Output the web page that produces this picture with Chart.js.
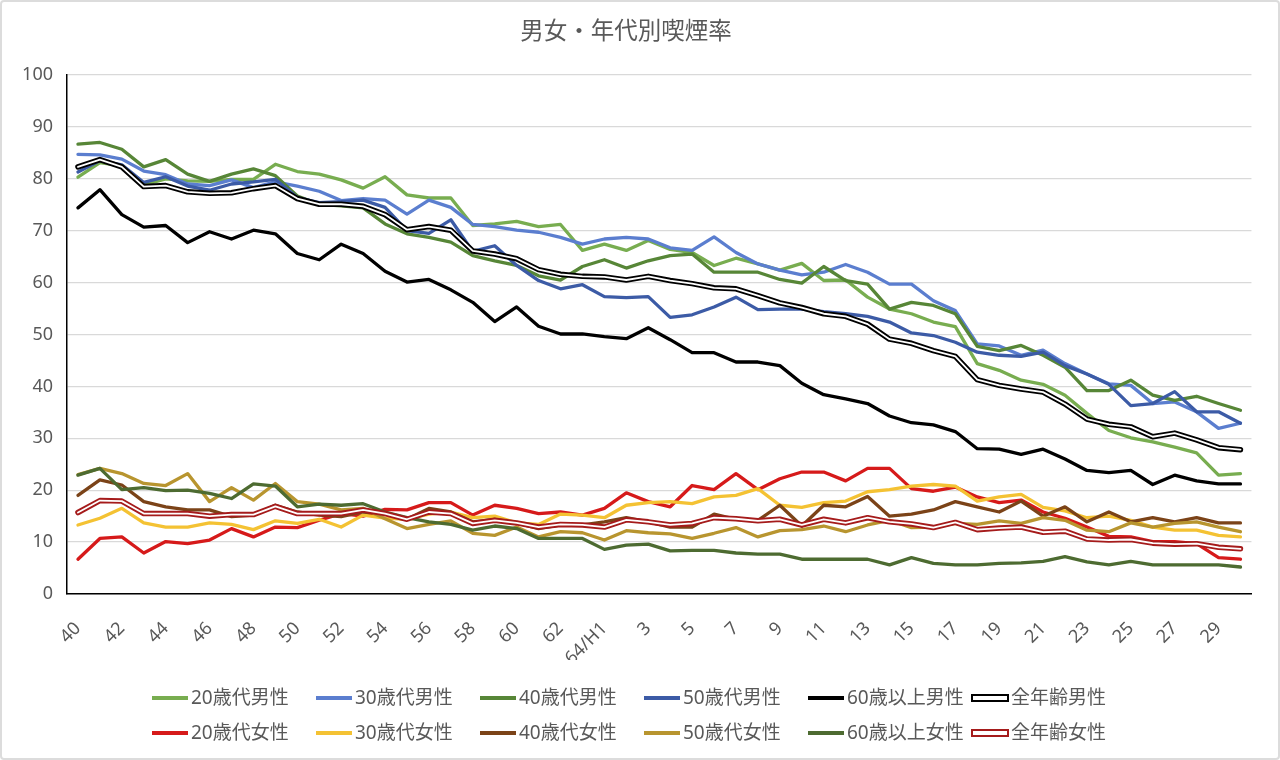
<!DOCTYPE html>
<html lang="ja">
<head>
  <meta charset="UTF-8">
  <title>男女・年代別喫煙率</title>
  <script src="https://cdn.jsdelivr.net/npm/chart.js"></script>
  <style>
    body { margin: 0; background: #fff; overflow: hidden; }
    #wrap { width: 1280px; height: 760px; position: relative; }
    #wrap::after {
      content: ''; position: absolute; inset: 0;
      border: 2px solid #dcdcdc; border-radius: 4px; pointer-events: none;
    }
  </style>
</head>
<body>
  <div id="wrap"><canvas id="chart" width="1280" height="760"></canvas></div>

  <script>
    // 昭和40年〜平成30年
    const yearLabels = ['40','41','42','43','44','45','46','47','48','49','50','51','52','53','54','55','56','57','58','59','60','61','62','63','64/H1',
      '2','3','4','5','6','7','8','9','10','11','12','13','14','15','16','17','18','19','20','21','22','23','24','25','26','27','28','29','30'];

    const male20 = [80.3, 83.1, 82.5, 78.8, 80.0, 79.6, 79.5, 79.9, 79.9, 82.8, 81.4, 80.9, 79.8, 78.2, 80.4, 76.9, 76.3, 76.3, 71.0, 71.3,
      71.8, 70.8, 71.2, 66.2, 67.4, 66.2, 68.1, 66.4, 65.8, 63.3, 64.7, 63.6, 62.4, 63.7, 60.4, 60.5, 57.2, 54.9, 54.0, 52.4,
      51.5, 44.4, 43.1, 41.2, 40.4, 38.3, 34.8, 31.5, 30.1, 29.3, 28.3, 27.2, 22.9, 23.2];
    const male30 = [84.7, 84.6, 83.8, 81.5, 80.8, 79.0, 78.7, 79.8, 78.3, 79.4, 78.6, 77.6, 75.8, 76.2, 75.9, 73.2, 75.9, 74.5, 71.2, 70.8,
      70.1, 69.7, 68.7, 67.4, 68.4, 68.7, 68.4, 66.7, 66.2, 68.8, 65.8, 63.6, 62.4, 61.5, 62.0, 63.5, 62.0, 59.7, 59.7, 56.5,
      54.6, 48.2, 47.8, 46.0, 47.0, 44.4, 42.4, 40.5, 40.2, 36.7, 37.0, 35.1, 31.9, 32.9];
    const male40 = [86.7, 87.0, 85.7, 82.3, 83.7, 80.9, 79.5, 80.9, 81.9, 80.6, 76.7, 75.1, 74.8, 74.4, 71.3, 69.4, 68.7, 67.8, 65.2, 64.2,
      63.3, 61.3, 60.5, 63.1, 64.4, 62.8, 64.2, 65.2, 65.5, 62.0, 62.0, 62.0, 60.6, 59.9, 63.1, 60.4, 59.7, 54.9, 56.2, 55.6,
      54.0, 47.7, 46.9, 47.9, 46.0, 43.7, 39.2, 39.2, 41.2, 38.3, 37.3, 38.1, 36.7, 35.4];
    const male50 = [81.3, 83.5, 82.7, 79.3, 80.4, 78.6, 77.8, 79.0, 79.4, 79.9, 76.4, 75.4, 75.6, 75.9, 74.5, 70.0, 69.5, 72.1, 66.0, 67.1,
      63.3, 60.4, 58.8, 59.6, 57.3, 57.1, 57.3, 53.3, 53.8, 55.3, 57.2, 54.8, 54.9, 54.9, 54.4, 54.0, 53.5, 52.4, 50.3, 49.8,
      48.5, 46.6, 46.0, 45.8, 46.6, 44.0, 42.4, 40.4, 36.3, 36.7, 39.0, 35.1, 35.1, 32.9];
    const male60 = [74.4, 77.9, 73.1, 70.7, 71.0, 67.7, 69.8, 68.4, 70.1, 69.4, 65.6, 64.4, 67.4, 65.6, 62.2, 60.1, 60.6, 58.6, 56.2, 52.5,
      55.3, 51.6, 50.1, 50.1, 49.6, 49.2, 51.3, 49.0, 46.5, 46.5, 44.7, 44.7, 44.0, 40.6, 38.4, 37.6, 36.7, 34.3, 33.0, 32.6,
      31.3, 28.0, 27.9, 26.9, 27.9, 26.0, 23.8, 23.4, 23.8, 21.1, 22.9, 21.8, 21.2, 21.2];
    const maleAll = [82.3, 83.7, 82.3, 78.5, 78.7, 77.5, 77.2, 77.3, 78.1, 78.7, 76.2, 75.1, 75.1, 74.7, 73.1, 70.2, 70.8, 70.1, 66.1, 65.5,
      64.6, 62.5, 61.6, 61.2, 61.1, 60.5, 61.2, 60.4, 59.8, 59.0, 58.8, 57.5, 56.1, 55.2, 54.0, 53.5, 52.0, 49.1, 48.3, 46.9,
      45.8, 41.3, 40.2, 39.5, 38.9, 36.6, 33.7, 32.7, 32.2, 30.3, 31.0, 29.7, 28.2, 27.8];

    const female20 = [6.7, 10.7, 11.0, 7.9, 10.1, 9.7, 10.4, 12.6, 11.0, 12.9, 12.8, 14.2, 15.5, 15.0, 16.3, 16.2, 17.6, 17.6, 15.2, 17.1,
      16.5, 15.5, 15.8, 15.2, 16.5, 19.5, 17.8, 16.8, 20.9, 20.1, 23.2, 20.1, 22.2, 23.5, 23.5, 21.8, 24.2, 24.2, 20.3, 19.8,
      20.6, 18.7, 17.6, 18.1, 15.8, 14.6, 12.9, 11.1, 11.0, 10.1, 10.1, 9.7, 7.0, 6.7];
    const female30 = [13.3, 14.6, 16.5, 13.7, 12.9, 12.9, 13.7, 13.4, 12.4, 14.1, 13.6, 14.4, 12.9, 15.2, 14.6, 14.4, 15.4, 15.8, 14.7, 15.0,
      13.7, 13.4, 15.4, 15.2, 14.7, 17.1, 17.6, 17.8, 17.4, 18.7, 19.0, 20.3, 17.1, 16.7, 17.6, 17.9, 19.7, 20.1, 20.8, 21.1,
      20.8, 17.9, 18.7, 19.2, 16.7, 16.0, 14.7, 15.0, 14.2, 12.9, 12.3, 12.3, 11.3, 11.0];
    const female40 = [19.0, 22.0, 21.0, 17.8, 16.8, 16.2, 16.2, 14.9, 15.2, 17.1, 15.8, 15.2, 14.9, 15.8, 15.5, 14.4, 16.5, 15.8, 13.9, 14.4,
      13.7, 12.6, 13.3, 13.3, 13.9, 14.7, 13.9, 12.9, 12.9, 15.4, 14.4, 14.2, 17.1, 13.1, 17.1, 16.8, 18.8, 15.0, 15.4, 16.2,
      17.8, 16.8, 15.8, 17.9, 15.0, 16.8, 13.9, 15.8, 13.9, 14.7, 13.9, 14.7, 13.7, 13.7];
    const female50 = [23.0, 24.2, 23.2, 21.3, 20.9, 23.2, 17.8, 20.5, 18.1, 21.3, 17.8, 17.3, 16.2, 16.5, 14.5, 12.6, 13.4, 14.1, 11.7, 11.3,
      12.9, 11.0, 12.0, 11.8, 10.4, 12.2, 11.8, 11.6, 10.7, 11.7, 12.8, 11.0, 12.2, 12.4, 13.1, 12.0, 13.3, 14.2, 12.8, 12.9,
      13.6, 13.4, 14.1, 13.6, 14.7, 14.2, 12.3, 12.0, 13.7, 12.9, 13.6, 13.9, 12.9, 12.0];
    const female60 = [22.9, 24.2, 20.1, 20.5, 19.9, 20.0, 19.4, 18.4, 21.2, 20.8, 16.8, 17.3, 17.1, 17.4, 15.8, 14.7, 13.9, 13.4, 12.3, 13.1,
      12.6, 10.7, 10.7, 10.7, 8.6, 9.4, 9.6, 8.3, 8.4, 8.4, 7.9, 7.7, 7.7, 6.7, 6.7, 6.7, 6.7, 5.6, 7.0, 5.9,
      5.6, 5.6, 5.9, 6.0, 6.3, 7.2, 6.2, 5.6, 6.3, 5.6, 5.6, 5.6, 5.6, 5.2];
    const femaleAll = [15.7, 18.0, 17.9, 15.5, 15.5, 15.5, 15.0, 15.3, 15.3, 16.9, 15.5, 15.5, 15.5, 16.2, 15.5, 14.4, 15.8, 15.5, 13.6, 14.2,
      13.7, 12.9, 13.4, 13.3, 12.9, 14.3, 13.9, 13.3, 13.6, 14.7, 14.5, 14.1, 14.4, 13.3, 14.4, 13.7, 14.7, 13.9, 13.5, 12.8,
      13.8, 12.4, 12.7, 12.9, 11.9, 12.1, 10.6, 10.4, 10.5, 9.8, 9.6, 9.7, 9.0, 8.7];

    const series = [
      { name: '20歳代男性', data: male20, color: '#78ad50' },
      { name: '30歳代男性', data: male30, color: '#5b7ecf' },
      { name: '40歳代男性', data: male40, color: '#578637' },
      { name: '50歳代男性', data: male50, color: '#3c5ba6' },
      { name: '60歳以上男性', data: male60, color: '#000000' },
      { name: '全年齢男性', data: maleAll, color: '#000000', double: true },
      { name: '20歳代女性', data: female20, color: '#d61a1a' },
      { name: '30歳代女性', data: female30, color: '#f4c233' },
      { name: '40歳代女性', data: female40, color: '#7b4318' },
      { name: '50歳代女性', data: female50, color: '#b8952f' },
      { name: '60歳以上女性', data: female60, color: '#4d6b31' },
      { name: '全年齢女性', data: femaleAll, color: '#a51b1b', double: true }
    ];

    const textColor = '#595959';
    const fontFamily = "'Noto Sans', 'Noto Sans CJK JP', sans-serif";

    // later series on top (like Excel)
    const datasets = [];
    series.forEach((s, i) => {
      const base = 100 - i * 4;
      datasets.push({
        label: s.name,
        data: s.data,
        borderColor: s.color,
        borderWidth: s.double ? 5.5 : 3.3,
        pointRadius: 0,
        tension: 0,
        borderJoinStyle: 'round',
        borderCapStyle: 'round',
        order: base
      });
      if (s.double) {
        datasets.push({
          label: s.name + '_inner',
          data: s.data,
          borderColor: '#ffffff',
          borderWidth: 1.8,
          pointRadius: 0,
          tension: 0,
          borderJoinStyle: 'round',
          borderCapStyle: 'round',
          order: base - 1
        });
      }
    });

    // 6列×2行の凡例
    const gridLegend = {
      id: 'gridLegend',
      afterDraw(chart) {
        const ctx = chart.ctx;
        ctx.save();
        ctx.font = '19px ' + fontFamily;
        ctx.textBaseline = 'middle';
        series.forEach((s, i) => {
          const col = i % 6, row = Math.floor(i / 6);
          const x = 152 + col * 164;
          const y = 698 + row * 35;
          if (s.double) {
            ctx.fillStyle = '#fff';
            ctx.strokeStyle = s.color;
            ctx.lineWidth = 2;
            ctx.fillRect(x, y - 3, 36, 6);
            ctx.strokeRect(x, y - 3, 36, 6);
          } else {
            ctx.fillStyle = s.color;
            ctx.fillRect(x, y - 2, 36, 4);
          }
          ctx.fillStyle = textColor;
          ctx.fillText(s.name, x + 39, y + 1);
        });
        ctx.restore();
      }
    };

    new Chart(document.getElementById('chart'), {
      type: 'line',
      data: { labels: yearLabels, datasets: datasets },
      options: {
        responsive: false,
        animation: false,
        layout: { padding: { left: 0, right: 28, top: 0, bottom: 100 } },
        plugins: {
          legend: { display: false },
          tooltip: { enabled: false },
          title: {
            display: true,
            text: '男女・年代別喫煙率',
            color: textColor,
            font: { size: 23.5, family: fontFamily, weight: 'normal' },
            padding: { top: 18, bottom: 28.8 }
          }
        },
        scales: {
          x: {
            offset: true,
            grid: { display: false, drawTicks: false },
            border: { color: '#000', width: 1.5 },
            ticks: {
              autoSkip: false,
              minRotation: 45,
              maxRotation: 45,
              padding: 24,
              color: textColor,
              font: { size: 18, family: fontFamily },
              callback: (v, i) => i % 2 === 0 ? yearLabels[i] : ''
            },
            afterFit: s => { s.height = 66; }
          },
          y: {
            min: 0,
            max: 100,
            ticks: { stepSize: 10, padding: 14, color: textColor, font: { size: 18, family: fontFamily } },
            grid: { color: '#d9d9d9', lineWidth: 1.3, drawTicks: false },
            border: { color: '#000', width: 1.5 },
            afterFit: s => { s.width = 67; }
          }
        }
      },
      plugins: [gridLegend]
    });
  </script>
</body>
</html>
